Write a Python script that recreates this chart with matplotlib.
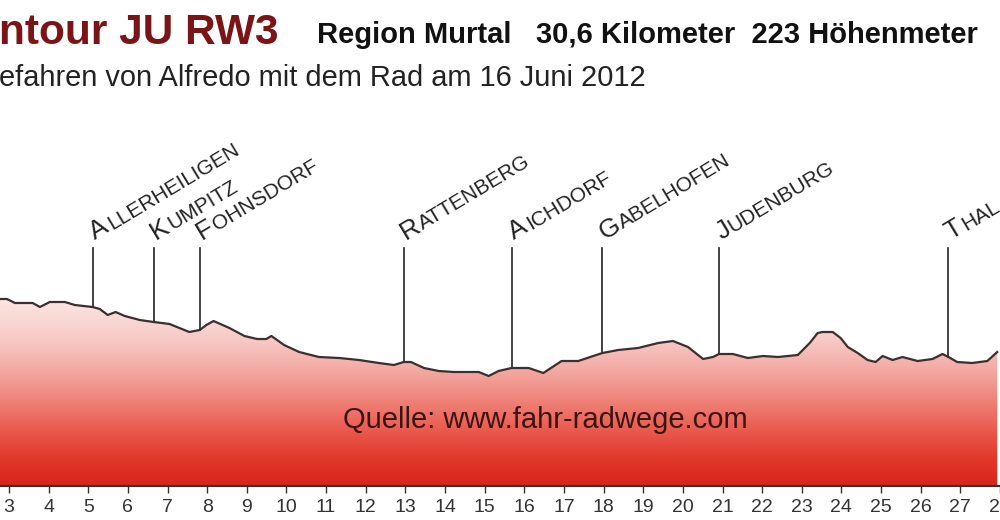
import numpy as np
import matplotlib
matplotlib.use('Agg')
import matplotlib.pyplot as plt
import matplotlib.transforms as mtransforms
from matplotlib.colors import LinearSegmentedColormap
from matplotlib.font_manager import FontProperties
from matplotlib.patches import Polygon
from matplotlib.textpath import TextPath

plt.rcParams['font.family'] = ['Liberation Sans', 'DejaVu Sans']

km = [2.77, 2.95, 3.15, 3.60, 3.78, 4.03, 4.41, 4.66, 5.11, 5.29,
      5.49, 5.69, 5.92, 6.30, 6.65, 7.05, 7.55, 7.81, 7.98, 8.16,
      8.56, 8.94, 9.26, 9.49, 9.62, 9.94, 10.32, 10.82, 11.33, 11.83,
      12.33, 12.71, 12.96, 13.14, 13.47, 13.84, 14.22, 14.60, 14.85, 15.10,
      15.35, 15.68, 16.11, 16.48, 16.94, 17.36, 17.74, 17.97, 18.37, 18.87,
      19.38, 19.75, 20.13, 20.51, 20.76, 20.91, 21.26, 21.64, 22.02, 22.40,
      22.90, 23.20, 23.40, 23.53, 23.78, 23.98, 24.16, 24.41, 24.66, 24.86,
      25.04, 25.29, 25.54, 25.92, 26.30, 26.55, 26.70, 26.92, 27.30, 27.68,
      27.93]
hoehe = [837, 837, 833, 833, 829, 834, 834, 831, 829, 827,
         821, 824, 820, 816, 814, 812, 804, 806, 811, 815,
         808, 800, 797, 797, 800, 791, 784, 779, 778, 776,
         773, 771, 774, 774, 768, 765, 764, 764, 764, 760,
         765, 768, 768, 763, 775, 775, 780, 783, 786, 788,
         793, 795, 789, 777, 779, 782, 782, 778, 780, 779,
         781, 793, 803, 804, 804, 798, 789, 783, 776, 774,
         780, 776, 779, 775, 777, 782, 779, 774, 773, 775,
         784]

# Orte entlang der Strecke
orte = ['Allerheiligen', 'Kumpitz', 'Fohnsdorf', 'Rattenberg', 'Aichdorf',
        'Gabelhofen', 'Judenburg', 'Thal']
orte_km = [5.11, 6.65, 7.81, 12.96, 15.68, 17.97, 20.91, 26.70]

km_ticks = list(range(3, 29))

km = np.array(km)
hoehe = np.array(hoehe)
y_min, y_max = 650, 1136
x_min, x_max = 2.7736, 27.931

fig = plt.figure(figsize=(10, 5.2), dpi=100)
ax = fig.add_axes([0, 34 / 520, 1, 486 / 520])
ax.set_xlim(x_min, x_max)
ax.set_ylim(y_min, y_max)

# Farbverlauf unter dem Profil
farben = [(0.0, '#d5261b'), (0.133, '#e13729'), (0.286, '#ea5a4f'),
          (0.439, '#ef8379'), (0.59, '#f3a9a2'), (0.745, '#f7c9c5'),
          (0.95, '#fbe6e3'), (1.0, '#fdf0ef')]
cmap = LinearSegmentedColormap.from_list('rot', farben)
grad = np.linspace(0, 1, 256).reshape(-1, 1)
im = ax.imshow(grad, extent=[x_min, x_max, y_min, 846], origin='lower',
               aspect='auto', cmap=cmap, zorder=1)
verts = np.column_stack([np.r_[km[0], km, km[-1]], np.r_[y_min, hoehe, y_min]])
poly = Polygon(verts, facecolor='none', edgecolor='none')
ax.add_patch(poly)
im.set_clip_path(poly)

ax.plot(km, hoehe, color='#3b2f2f', lw=1.6, zorder=3)

# Ortsmarken mit Kapitaelchen-Beschriftung
fp_gross = FontProperties(family='Liberation Sans', size=19)
fp_klein = FontProperties(family='Liberation Sans', size=15)
winkel = 31
c, s = np.cos(np.radians(winkel)), np.sin(np.radians(winkel))
for name, k in zip(orte, orte_km):
    boden = np.interp(k, km, hoehe)
    ax.plot([k, k], [boden, 888], color='#222222', lw=1.2, zorder=2)
    erster, rest = name[0].upper(), name[1:].upper()
    ax.text(k + 0.06, 896, erster, fontproperties=fp_gross, color='#222222',
            rotation=winkel, rotation_mode='anchor', ha='left', va='baseline')
    w = TextPath((0, 0), erster, prop=fp_gross).get_extents().x1 + 1.5
    trans = mtransforms.offset_copy(ax.transData, fig=fig, x=w * c, y=w * s,
                                    units='points')
    ax.text(k + 0.06, 896, rest, fontproperties=fp_klein, color='#222222',
            transform=trans, rotation=winkel, rotation_mode='anchor',
            ha='left', va='baseline')

ax.set_xticks(km_ticks)
ax.set_xticklabels([str(t) for t in km_ticks])
ax.tick_params(axis='x', direction='out', length=5, width=1, color='#333333',
               labelsize=14, labelcolor='#333333', pad=4)
ax.set_yticks([])
for side in ['left', 'right', 'top']:
    ax.spines[side].set_visible(False)
ax.spines['bottom'].set_color('#333333')
ax.spines['bottom'].set_linewidth(1.5)
ax.spines['bottom'].set_zorder(4)
ax.set_facecolor('white')

# Titel
fig.text(-0.001, 1 - 44 / 520, 'ntour JU RW3', fontsize=30.5, fontweight='bold',
         color='#7b1416', ha='left', va='baseline')
fig.text(0.317, 1 - 43 / 520, 'Region Murtal   30,6 Kilometer  223 Höhenmeter',
         fontsize=21, fontweight='bold', color='#111111', ha='left', va='baseline')
fig.text(-0.001, 1 - 86 / 520, 'efahren von Alfredo mit dem Rad am 16 Juni 2012',
         fontsize=20.9, color='#222222', ha='left', va='baseline')
fig.text(0.545, 1 - 428 / 520, 'Quelle: www.fahr-radwege.com', fontsize=21,
         color='#3a1512', ha='center', va='baseline', zorder=5)

fig.savefig('out.png', dpi=100)
